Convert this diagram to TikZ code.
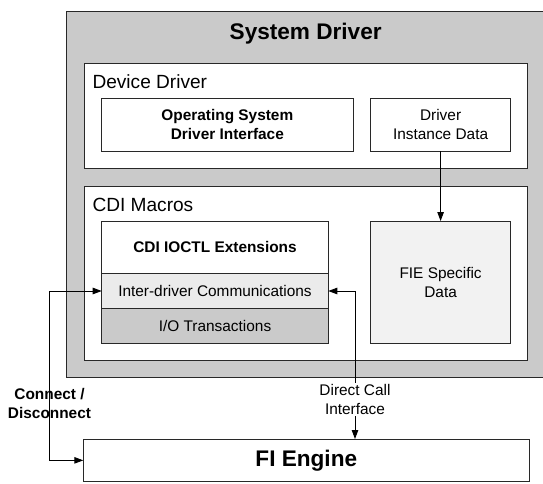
\documentclass[tikz,border=0pt]{standalone}
\usepackage{fontspec}
\setmainfont{Liberation Sans}
\usetikzlibrary{arrows.meta}
\definecolor{sysgrey}{RGB}{202,202,202}
\definecolor{intergrey}{RGB}{235,235,235}
\definecolor{fiegrey}{RGB}{242,242,242}
\definecolor{edge}{RGB}{40,40,40}
\tikzset{
  box/.style={draw=edge, line width=0.9pt, inner sep=0pt, outer sep=0pt},
  bigfont/.style={font=\fontsize{22.6}{27}\selectfont\bfseries},
  midfont/.style={font=\fontsize{19.1}{23}\selectfont},
  smallfont/.style={font=\fontsize{15.4}{18.8}\selectfont},
  conn/.style={draw=black, line width=0.9pt, {Triangle[length=9pt,width=6.5pt]}-{Triangle[length=9pt,width=6.5pt]}},
  conn1/.style={draw=black, line width=0.9pt, -{Triangle[length=9pt,width=6.5pt]}}
}
\begin{document}
\begin{tikzpicture}[x=1pt,y=-1pt]
\useasboundingbox (0,0) rectangle (543,483);
% outer System Driver box (runs off the right edge)
\node[box, fill=sysgrey, anchor=north west, minimum width=500pt, minimum height=366pt] (sys) at (66.7,11.7) {};
\node[bigfont] (systitle) at (305.7,34) {System Driver};
% Device Driver
\node[box, fill=white, anchor=north west, minimum width=443.5pt, minimum height=105pt] (dd) at (84,63.7) {};
\node[midfont, anchor=west, inner sep=0pt] (ddlabel) at (92.3,82) {Device Driver};
\node[box, fill=white, anchor=north west, minimum width=251.3pt, minimum height=52.3pt, smallfont, align=center] (os) at (101.7,98.7) {\bfseries Operating System\\\bfseries Driver Interface};
\node[box, fill=white, anchor=north west, minimum width=139.8pt, minimum height=52.3pt, smallfont, align=center] (did) at (370.7,98.7) {Driver\\Instance Data};
% CDI Macros
\node[box, fill=white, anchor=north west, minimum width=443.5pt, minimum height=174.5pt] (cdi) at (84,186) {};
\node[midfont, anchor=west, inner sep=0pt] (cdilabel) at (92.3,205) {CDI Macros};
\node[box, fill=white, anchor=north west, minimum width=226.6pt, minimum height=52.3pt, smallfont] (ioctl) at (101.7,221) {\bfseries CDI IOCTL Extensions};
\node[box, fill=intergrey, anchor=north west, minimum width=226.6pt, minimum height=35.4pt, smallfont] (inter) at (101.7,273.3) {Inter-driver Communications};
\node[box, fill=sysgrey, anchor=north west, minimum width=226.6pt, minimum height=34.6pt, smallfont] (io) at (101.7,308.7) {I/O Transactions};
\node[box, fill=fiegrey, anchor=north west, minimum width=139.8pt, minimum height=122.3pt, smallfont, align=center] (fie) at (370.7,221) {FIE Specific\\Data};
% FI Engine
\node[box, fill=white, anchor=north west, minimum width=446pt, minimum height=42.7pt, bigfont] (fi) at (83.3,439) {FI Engine};
% connectors
\draw[conn1] (did.south) -- (fie.north);
\coordinate (lx) at (49.3,0);
\coordinate (rx) at (355,0);
\draw[conn] (inter.west) -- (inter.west -| lx) -- (fi.west -| lx) -- (fi.west);
\draw[conn] (inter.east) -- (inter.east -| rx) -- (fi.north -| rx);
\node[smallfont, align=center, fill=white, inner sep=1.5pt] (dclabel) at (355,399.5) {Direct Call\\Interface};
\node[smallfont, align=center, inner sep=0pt] (cdlabel) at (49.5,403.5) {\bfseries Connect /\\\bfseries Disconnect};
\end{tikzpicture}
\end{document}
